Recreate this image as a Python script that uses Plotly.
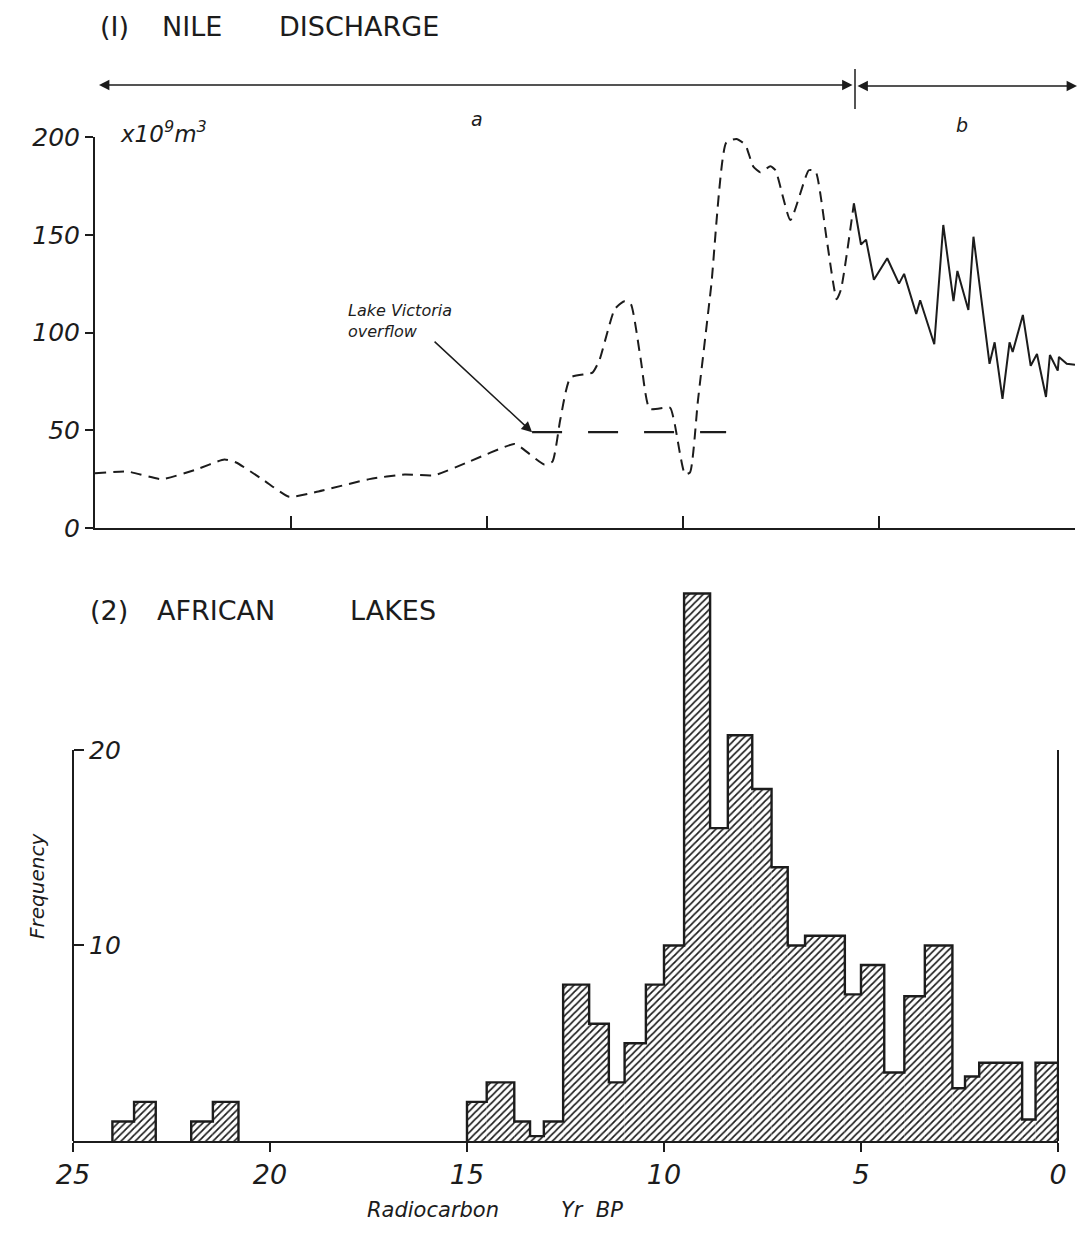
import plotly.graph_objects as go

W, H = 1079, 1237
INK = "#1c1c1c"
FONT = "DejaVu Sans"

# ---------------- Panel 1: Nile discharge (x10^9 m^3) ----------------
dashed_years = [25.0, 24.15, 23.3, 22.45, 21.7, 21.4, 20.7, 20.05, 19.3, 18.0, 17.1,
                16.35, 15.45, 14.31, 14.15, 13.54, 13.33, 13.13, 12.87, 12.31, 12.13,
                11.74, 11.49, 11.33, 11.08, 10.85, 10.33, 10.21, 9.95, 9.82, 9.62,
                9.28, 8.9, 8.64, 8.41, 8.21, 8.03, 7.77, 7.64, 7.26, 6.79, 6.62,
                6.33, 6.08, 5.97, 5.64]
dashed_discharge = [28, 28.8, 25, 29.7, 35, 33.5, 24.5, 16, 18.7, 25, 27.4,
                    27, 34, 43, 41.5, 32.5, 34, 55.5, 77, 79.5, 86,
                    112, 116, 114.5, 86.5, 61, 61.5, 53, 27.5, 28.5, 65,
                    124, 197, 199, 196, 185, 182, 185, 183, 157.5, 183, 182.5,
                    147, 117, 122, 166]
solid_years = [5.64, 5.46, 5.33, 5.13, 4.79, 4.49, 4.36, 4.05, 3.95, 3.59, 3.36,
               3.1, 3.0, 2.72, 2.59, 2.18, 2.05, 1.85, 1.67, 1.59, 1.33, 1.13,
               0.97, 0.74, 0.64, 0.44, 0.41, 0.21, 0.0]
solid_discharge = [166, 145, 147.5, 127, 138, 125, 130, 109.5, 116.5, 94, 155,
                   116, 131.5, 111.5, 149, 84, 95, 66, 95, 90, 109, 83,
                   89, 67, 88.5, 80.5, 87.5, 84, 83.5]
overflow_years = [13.85, 8.9]
overflow_level = [49, 49]

top_xticks = [20, 15, 10, 5]
top_yticks = [0, 50, 100, 150, 200]
top_right_ticks = [50, 100, 150, 200]

# ---------------- Panel 2: African lakes (frequency histogram) ----------------
bin_start = [24.0, 23.45, 22.0, 21.45, 15.0, 14.5, 13.8, 13.4, 13.05, 12.56, 11.9,
             11.4, 11.0, 10.46, 10.0, 9.49, 8.83, 8.38, 7.76, 7.27, 6.86, 6.42,
             5.41, 5.0, 4.41, 3.9, 3.38, 2.68, 2.36, 2.0, 0.91, 0.57]
bin_end = [23.45, 22.9, 21.45, 20.8, 14.5, 13.8, 13.4, 13.05, 12.56, 11.9, 11.4,
           11.0, 10.46, 10.0, 9.49, 8.83, 8.38, 7.76, 7.27, 6.86, 6.42, 5.41,
           5.0, 4.41, 3.9, 3.38, 2.68, 2.36, 2.0, 0.91, 0.57, 0.0]
frequency = [1, 2, 1, 2, 2, 3, 1, 0.25, 1, 8, 6,
             3, 5, 8, 10, 28, 16, 20.75, 18, 14, 10, 10.5,
             7.5, 9, 3.5, 7.4, 10, 2.7, 3.3, 4, 1.1, 4]

bottom_xticks = [25, 20, 15, 10, 5, 0]
bottom_yticks = [10, 20]
bottom_right_ticks = [2, 10, 20]


def px(x):
    return x / W


def py(y):
    return 1 - y / H


fig = go.Figure()

# Panel 1 traces
fig.add_trace(go.Scatter(
    x=dashed_years, y=dashed_discharge, mode="lines", xaxis="x", yaxis="y",
    line=dict(color=INK, width=2, dash="11px,7px", shape="spline", smoothing=0.5),
    hoverinfo="skip"))
fig.add_trace(go.Scatter(
    x=solid_years, y=solid_discharge, mode="lines", xaxis="x", yaxis="y",
    line=dict(color=INK, width=2), hoverinfo="skip"))
fig.add_trace(go.Scatter(
    x=overflow_years, y=overflow_level, mode="lines", xaxis="x", yaxis="y",
    line=dict(color=INK, width=2.2, dash="30px,26px"), hoverinfo="skip"))

# Panel 2 traces: hatched bars + stepped outline
centers = [(s + e) / 2 for s, e in zip(bin_start, bin_end)]
widths = [s - e for s, e in zip(bin_start, bin_end)]
fig.add_trace(go.Bar(
    x=centers, y=frequency, width=widths, xaxis="x2", yaxis="y3",
    marker=dict(color="white", line=dict(width=0),
                pattern=dict(shape="/", fgcolor=INK, bgcolor="white",
                             size=5, solidity=0.34)),
    hoverinfo="skip"))

ox, oy = [], []
prev_end = None
for s, e, f in zip(bin_start, bin_end, frequency):
    if prev_end is None or abs(s - prev_end) > 1e-9:
        if prev_end is not None:
            ox += [prev_end, None]
            oy += [0, None]
        ox.append(s)
        oy.append(0)
    ox += [s, e]
    oy += [f, f]
    prev_end = e
ox.append(prev_end)
oy.append(0)
fig.add_trace(go.Scatter(
    x=ox, y=oy, mode="lines", xaxis="x2", yaxis="y3",
    line=dict(color=INK, width=2.4), hoverinfo="skip"))

tickfont_big = dict(family=FONT, size=25, color=INK, style="italic")
common = dict(showgrid=False, zeroline=False, automargin=False)

fig.update_layout(
    template="none",
    width=W, height=H, autosize=False,
    margin=dict(l=0, r=0, t=0, b=0, pad=0),
    paper_bgcolor="white", plot_bgcolor="rgba(0,0,0,0)",
    showlegend=False,
    xaxis=dict(domain=[px(95), px(1075)], range=[25, 0], anchor="y",
               showline=True, linewidth=2,
               linecolor=INK, ticks="inside", ticklen=12, tickwidth=2,
               tickcolor=INK, tickvals=top_xticks, showticklabels=False, **common),
    yaxis=dict(domain=[py(528), py(137)], range=[0, 200], anchor="x",
               showline=True, linewidth=2,
               linecolor=INK, ticks="outside", ticklen=8, tickwidth=2,
               tickcolor=INK, tickvals=top_yticks, tickfont=tickfont_big, **common),
    yaxis2=dict(overlaying="y", side="right", anchor="x", range=[0, 200],
                showline=True, linewidth=2,
                linecolor=INK, ticks="inside", ticklen=12, tickwidth=2,
                tickcolor=INK, tickvals=top_right_ticks, showticklabels=False,
                **common),
    xaxis2=dict(domain=[px(73), px(1058)], range=[25, 0], anchor="y3",
                showline=True, linewidth=2,
                linecolor=INK, ticks="outside", ticklen=9, tickwidth=2,
                tickcolor=INK, tickvals=bottom_xticks,
                tickfont=dict(family=FONT, size=27, color=INK, style="italic"),
                **common),
    # left frequency axis: ticks and labels drawn on the inner (right) side
    yaxis3=dict(domain=[py(1141), py(574)], range=[0, 29], anchor="free",
                position=px(73), side="right", showline=False,
                ticks="outside", ticklen=10, tickwidth=2, tickcolor=INK,
                tickvals=bottom_yticks, tickfont=tickfont_big, **common),
    yaxis4=dict(overlaying="y3", side="right", anchor="x2", range=[0, 29],
                showline=False,
                ticks="inside", ticklen=12, tickwidth=2, tickcolor=INK,
                tickvals=bottom_right_ticks, showticklabels=False, **common),
)

# vertical axis lines of the histogram (only up to 20)
fig.add_shape(type="line", xref="paper", yref="y3", x0=px(73), x1=px(73), y0=0, y1=20,
              line=dict(color=INK, width=2))
fig.add_shape(type="line", xref="paper", yref="y3", x0=px(1058), x1=px(1058), y0=-0.4,
              y1=20, line=dict(color=INK, width=2))

# period arrows a / b on top
fig.add_shape(type="line", xref="paper", yref="paper",
              x0=px(855), x1=px(855), y0=py(69), y1=py(109),
              line=dict(color=INK, width=1.5))
fig.add_annotation(xref="paper", yref="paper", x=px(99), y=py(85), ax=755, ay=0,
                   text="", showarrow=True, arrowhead=2, startarrowhead=2,
                   arrowside="end+start", arrowsize=1.3, arrowwidth=1.6,
                   arrowcolor=INK)
fig.add_annotation(xref="paper", yref="paper", x=px(1077), y=py(86), ax=-221, ay=0,
                   text="", showarrow=True, arrowhead=2, startarrowhead=2,
                   arrowside="end+start", arrowsize=1.3, arrowwidth=1.6,
                   arrowcolor=INK)

label_font = dict(family=FONT, size=19, color=INK, style="italic")
fig.add_annotation(xref="paper", yref="paper", x=px(477), y=py(106), text="a",
                   showarrow=False, font=label_font)
fig.add_annotation(xref="paper", yref="paper", x=px(970), y=py(112), text="b",
                   showarrow=False, font=label_font)

# Titles
title_font = dict(family=FONT, size=27, color=INK)
for txt, x0, y0 in [("(I)", 98, 27), ("NILE", 160, 27), ("DISCHARGE", 277, 27),
                    ("(2)", 88, 610), ("AFRICAN", 155, 610), ("LAKES", 348, 610)]:
    fig.add_annotation(xref="paper", yref="paper", x=px(x0), y=py(y0), text=txt,
                       xanchor="left", yanchor="middle", showarrow=False,
                       font=title_font)

# unit label
fig.add_annotation(xref="paper", yref="paper", x=px(118), y=py(132),
                   text="x10<sup>9</sup>m<sup>3</sup>", xanchor="left",
                   yanchor="middle", showarrow=False,
                   font=dict(family=FONT, size=23, color=INK, style="italic"))

# Lake Victoria overflow label + arrow
fig.add_annotation(xref="paper", yref="paper", x=px(346), y=py(321),
                   text="Lake Victoria<br>overflow", xanchor="left",
                   yanchor="middle", align="left", showarrow=False,
                   font=dict(family=FONT, size=16, color=INK, style="italic"))
fig.add_annotation(xref="x", yref="y", x=overflow_years[0], y=overflow_level[0],
                   ax=-99, ay=-92, text="", showarrow=True, arrowhead=2,
                   arrowsize=1.4, arrowwidth=1.5, arrowcolor=INK)

# axis titles of lower panel
fig.add_annotation(xref="paper", yref="paper", x=px(23), y=py(941),
                   text="Frequency", textangle=-90, showarrow=False,
                   font=dict(family=FONT, size=20, color=INK, style="italic"))
fig.add_annotation(xref="paper", yref="paper", x=px(365), y=py(1224),
                   text="Radiocarbon", xanchor="left", showarrow=False,
                   font=dict(family=FONT, size=21, color=INK, style="italic"))
fig.add_annotation(xref="paper", yref="paper", x=px(559), y=py(1224),
                   text="Yr  BP", xanchor="left", showarrow=False,
                   font=dict(family=FONT, size=21, color=INK, style="italic"))

fig.write_html("out.html",
               config={"displayModeBar": False, "staticPlot": True},
               post_script="document.body.style.margin='0';"
                           "document.documentElement.style.overflow='hidden';")
